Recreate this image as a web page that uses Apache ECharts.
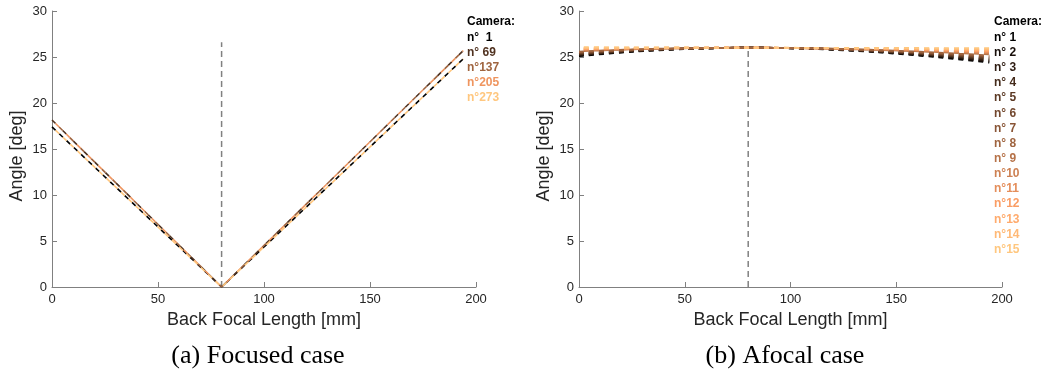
<!DOCTYPE html>
<html>
<head>
<meta charset="utf-8">
<script src="https://cdn.jsdelivr.net/npm/echarts@6/dist/echarts.min.js"></script>
<style>
  html, body { margin: 0; padding: 0; background: #fff; }
  #chart { width: 1045px; height: 371px; }
</style>
</head>
<body>
<div id="chart"></div>
<script>
// (a) focused case: 5 cameras, angle vs back focal length
var focusedCameras = ['n°  1', 'n° 69', 'n°137', 'n°205', 'n°273'];
var focusedBfl = [0, 80, 194];
var focusedAngle = [
  [17.4, 0, 24.8],
  [18.15, 0, 25.7],
  [18.15, 0, 25.7],
  [18.15, 0, 25.7],
  [17.4, 0, 24.8]
];
var focusedMark = [80, 26.6];

// (b) afocal case: 15 cameras
var afocalCameras = ['n° 1', 'n° 2', 'n° 3', 'n° 4', 'n° 5', 'n° 6', 'n° 7', 'n° 8',
  'n° 9', 'n°10', 'n°11', 'n°12', 'n°13', 'n°14', 'n°15'];
var afocalBfl = [0, 25, 50, 80, 110, 140, 170, 194];
var afocalAngle = [
  [25.10, 25.57, 25.87, 26.00, 25.90, 25.54, 24.97, 24.40],
  [25.17, 25.60, 25.88, 26.00, 25.91, 25.57, 25.04, 24.51],
  [25.24, 25.64, 25.89, 26.00, 25.91, 25.60, 25.11, 24.62],
  [25.30, 25.67, 25.90, 26.00, 25.92, 25.63, 25.18, 24.73],
  [25.37, 25.70, 25.91, 26.00, 25.93, 25.67, 25.25, 24.84],
  [25.44, 25.74, 25.92, 26.00, 25.93, 25.70, 25.32, 24.95],
  [25.51, 25.77, 25.93, 26.00, 25.94, 25.73, 25.39, 25.06],
  [25.58, 25.81, 25.94, 26.00, 25.94, 25.76, 25.46, 25.17],
  [25.64, 25.84, 25.96, 26.00, 25.95, 25.79, 25.54, 25.29],
  [25.71, 25.87, 25.97, 26.00, 25.96, 25.82, 25.61, 25.40],
  [25.78, 25.91, 25.98, 26.00, 25.96, 25.86, 25.68, 25.51],
  [25.85, 25.94, 25.99, 26.00, 25.97, 25.89, 25.75, 25.62],
  [25.91, 25.97, 26.00, 26.00, 25.98, 25.92, 25.82, 25.73],
  [25.98, 26.01, 26.01, 26.00, 25.98, 25.95, 25.89, 25.84],
  [26.05, 26.04, 26.02, 26.00, 25.99, 25.98, 25.96, 25.95]
];
var afocalMark = [80, 26.0];

var xTicks = [0, 50, 100, 150, 200];
var yTicks = [0, 5, 10, 15, 20, 25, 30];

// copper colormap
var focusedColors = ['#000000', '#503220', '#9f643f', '#ef955f', '#ffc77f'];
var afocalColors = ['#000000', '#170e09', '#2e1c12', '#442b1b', '#5b3924', '#72472d', '#895536',
  '#9f643f', '#b67248', '#cd8052', '#e48e5b', '#fa9d64', '#ffab6d', '#ffb976', '#ffc77f'];

var FONT = 'Liberation Sans, Arial, Helvetica, sans-serif';
var axisGray = '#808080';
var textGray = '#262626';

function pairs(xs, ys) {
  return xs.map(function (x, i) { return [x, ys[i]]; });
}

function xAxisCfg(idx) {
  return {
    type: 'value', gridIndex: idx,
    min: xTicks[0], max: xTicks[xTicks.length - 1], interval: 50,
    name: 'Back Focal Length [mm]', nameLocation: 'middle', nameGap: 23,
    nameTextStyle: { fontFamily: FONT, fontSize: 18, color: textGray },
    axisLine: { show: true, onZero: false, lineStyle: { color: axisGray, width: 1 } },
    axisTick: { show: true, inside: true, length: 5, lineStyle: { color: axisGray } },
    axisLabel: { fontFamily: FONT, fontSize: 13, color: textGray, margin: 6 },
    splitLine: { show: false }
  };
}

function yAxisCfg(idx) {
  return {
    type: 'value', gridIndex: idx,
    min: yTicks[0], max: yTicks[yTicks.length - 1], interval: 5,
    name: 'Angle [deg]', nameLocation: 'middle', nameGap: 26,
    nameTextStyle: { fontFamily: FONT, fontSize: 18, color: textGray, padding: [0, 14, 0, 0] },
    axisLine: { show: true, onZero: false, lineStyle: { color: axisGray, width: 1 } },
    axisTick: { show: true, inside: true, length: 5, lineStyle: { color: axisGray } },
    axisLabel: { fontFamily: FONT, fontSize: 13, color: textGray, margin: 5 },
    splitLine: { show: false }
  };
}

var series = [];

// focused: cameras on the same path share a dash pattern with shifted phase
var upperGroup = [1, 2, 3];
var lowerGroup = [0, 4];
focusedCameras.forEach(function (name, i) {
  var grp = upperGroup.indexOf(i) >= 0 ? upperGroup : lowerGroup;
  var k = grp.indexOf(i);
  series.push({
    name: name, type: 'line', xAxisIndex: 0, yAxisIndex: 0,
    data: pairs(focusedBfl, focusedAngle[i]),
    symbol: 'none', silent: true,
    lineStyle: { color: focusedColors[i], width: 1.6, type: [5, 5 * (grp.length - 1)], dashOffset: 5 * k }
  });
});
series.push({
  name: 'focus-mark', type: 'line', xAxisIndex: 0, yAxisIndex: 0,
  data: [[focusedMark[0], 0], focusedMark], symbol: 'none', silent: true, z: 1,
  lineStyle: { color: axisGray, width: 1.5, type: [6, 4] }
});

afocalCameras.forEach(function (name, i) {
  series.push({
    name: name, type: 'line', xAxisIndex: 1, yAxisIndex: 1,
    data: pairs(afocalBfl, afocalAngle[i]),
    symbol: 'none', silent: true, smooth: 0.3,
    lineStyle: { color: afocalColors[i], width: 2, type: [5, 5], dashOffset: i >= 8 ? 5 : 0 }
  });
});
series.push({
  name: 'afocal-mark', type: 'line', xAxisIndex: 1, yAxisIndex: 1,
  data: [[afocalMark[0], 0], afocalMark], symbol: 'none', silent: true, z: 1,
  lineStyle: { color: axisGray, width: 1.5, type: [6, 4] }
});

function legendCfg(names, colors, left) {
  return {
    orient: 'vertical', left: left, top: 30, padding: 0,
    icon: 'none', itemWidth: 0, itemHeight: 15, itemGap: 0.15,
    selectedMode: false,
    textStyle: { fontFamily: FONT, fontSize: 12, fontWeight: 'bold', lineHeight: 15 },
    data: names.map(function (n, i) { return { name: n, textStyle: { color: colors[i] } }; })
  };
}

var chart = echarts.init(document.getElementById('chart'), null, { renderer: 'canvas' });
chart.setOption({
  animation: false,
  backgroundColor: '#fff',
  title: [
    { text: 'Camera:', left: 467, top: 16, padding: 0,
      textStyle: { fontFamily: FONT, fontSize: 12, fontWeight: 'bold', color: '#000' } },
    { text: 'Camera:', left: 994, top: 16, padding: 0,
      textStyle: { fontFamily: FONT, fontSize: 12, fontWeight: 'bold', color: '#000' } },
    { text: '(a) Focused case', left: 258, top: 343, padding: 0, textAlign: 'center',
      textStyle: { fontFamily: 'Liberation Serif, Times New Roman, serif', fontSize: 26, fontWeight: 'normal', color: '#000' } },
    { text: '(b) Afocal case', left: 785, top: 343, padding: 0, textAlign: 'center',
      textStyle: { fontFamily: 'Liberation Serif, Times New Roman, serif', fontSize: 26, fontWeight: 'normal', color: '#000' } }
  ],
  legend: [
    legendCfg(focusedCameras, focusedColors, 462),
    legendCfg(afocalCameras, afocalColors, 989)
  ],
  grid: [
    { left: 52, top: 11, width: 424, height: 276 },
    { left: 579, top: 11, width: 423, height: 276 }
  ],
  xAxis: [xAxisCfg(0), xAxisCfg(1)],
  yAxis: [yAxisCfg(0), yAxisCfg(1)],
  series: series
});
</script>
</body>
</html>
